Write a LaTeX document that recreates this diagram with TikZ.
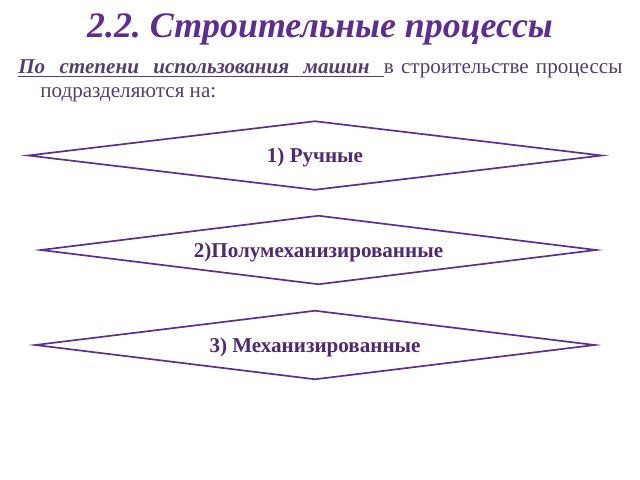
\documentclass[tikz,border=0pt]{standalone}
\usepackage{fontspec}
\setmainfont{Liberation Serif}
\usepackage{xcolor}
\usetikzlibrary{shapes.geometric}
\definecolor{titlepurple}{RGB}{94,45,145}
\definecolor{textpurple}{RGB}{84,62,112}
\definecolor{linepurple}{RGB}{92,46,142}
\definecolor{boxpurple}{RGB}{78,40,112}
\frenchspacing
% underlined word and stretchable underlined space
\newcommand{\ulword}[1]{\setbox0\hbox{#1}\rlap{\rule[-3pt]{\wd0}{1pt}}\box0}
\newcommand{\ulspace}{\leaders\hrule height -2pt depth 3pt\hskip 0.25em plus 0.6em minus 0.05em}
\tikzset{
  titletext/.style={text=titlepurple,font=\fontsize{25.5}{30}\selectfont\bfseries\itshape},
  bodytext/.style={text=textpurple,font=\fontsize{15}{17.5}\selectfont,
    anchor=north west,inner sep=0pt,text width=15.1cm,align=justify},
  procbox/.style={shape=diamond,draw=linepurple,line width=1.2pt,aspect=8,inner sep=0pt,
    text=boxpurple,font=\fontsize{15}{18}\selectfont\bfseries,minimum height=1.73cm,
    text depth=0pt}
}
\begin{document}
\begin{tikzpicture}[x=0.025cm,y=-0.025cm]
      \useasboundingbox (0,0) rectangle (640,480);

      \node[titletext] (title) at (320,29) {2.2. Строительные процессы};
      \node[bodytext] (intro) at (18,59) {\noindent\hangindent=0.55cm\hangafter=1
        {\bfseries\itshape\ulword{По}\ulspace\ulword{степени}\ulspace\ulword{использования}\ulspace
        \ulword{машин}\ulspace}в строительстве
        процессы подразделяются на:\par};

      \node[procbox,minimum width=14.35cm] (hand) at (315,155.5) {1) Ручные};
      \node[procbox,minimum width=13.9cm] (semi) at (318.5,250) {2)Полумеханизированные};
      \node[procbox,minimum width=14cm] (mech) at (315,345) {3) Механизированные};
      \end{tikzpicture}
\end{document}
